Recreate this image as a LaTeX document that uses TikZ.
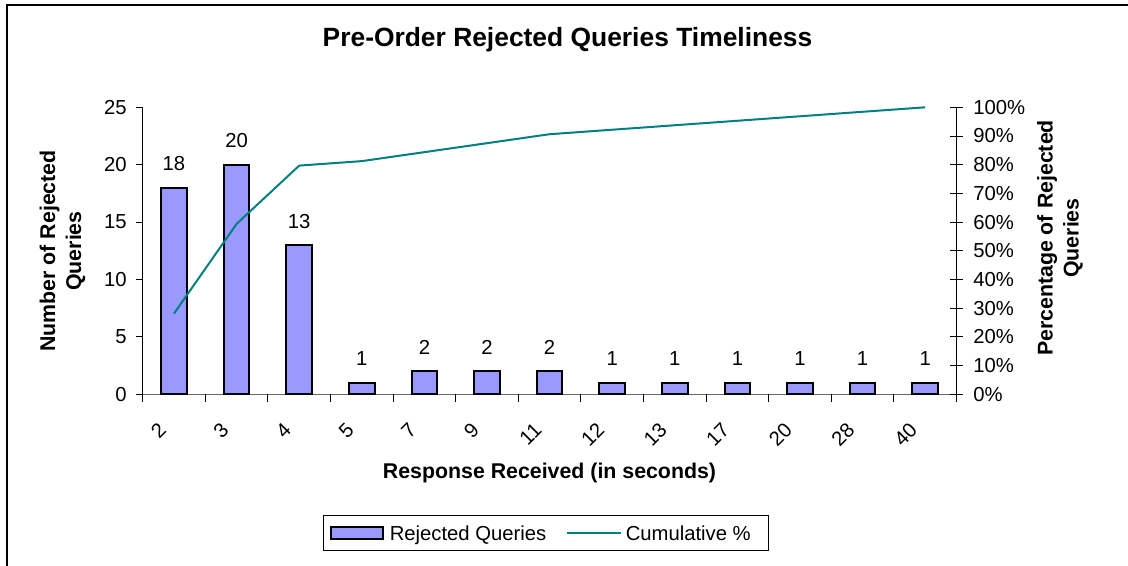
\documentclass[tikz,border=0pt]{standalone}
\usepackage{fontspec}
\setmainfont{Liberation Sans}
\definecolor{barblue}{HTML}{9999FF}
\definecolor{cumteal}{HTML}{008080}
\tikzset{
  rqbar/.style={draw=black, line width=1.5pt, fill=barblue},
  cumline/.style={draw=cumteal, line width=1.5pt},
  axisline/.style={draw=black, line width=0.75pt},
  ticklabel/.style={font=\fontsize{15.2}{18}\selectfont, inner sep=0pt},
  axistitle/.style={font=\bfseries\fontsize{16}{19.5}\selectfont, align=center, inner sep=0pt}
}
\begin{document}
\begin{tikzpicture}[x=0.75pt, y=-0.75pt]
    \useasboundingbox (0,0) rectangle (1128,565);
    % chart frame, only top and left edges show
    \draw [black, line width=1.5pt] (7.3,570) -- (7.3,4.7) -- (1135,4.7);
    \node [font=\bfseries\fontsize{19.8}{24}\selectfont] (title) at (567.5,39.6) {Pre-Order Rejected Queries Timeliness};
    % axes
    \draw [axisline] (142.7,107.3) -- (142.7,401.7);
    \draw [axisline] (956.7,107.3) -- (956.7,401.7);
    \draw [axisline, draw=black!60] (136,394.3) -- (956.7,394.3);
    \foreach \k in {1,...,12}
        \draw [axisline] ({142.7+\k*62.6},394.3) -- ({142.7+\k*62.6},401.7);
    \foreach \v in {0,...,5} {
        \draw [axisline] (136,{394.3-\v*57.4}) -- (142.7,{394.3-\v*57.4});
        \pgfmathtruncatemacro\num{\v*5}
        \node [ticklabel, anchor=east] (yl\v) at (127,{394.3-\v*57.4}) {\num};
    }
    \foreach \p in {0,...,10} {
        \draw [axisline] (950.2,{394.3-\p*28.7}) -- (963.2,{394.3-\p*28.7});
        \pgfmathtruncatemacro\pc{\p*10}
        \node [ticklabel, anchor=west] (pl\p) at (973,{394.3-\p*28.7}) {\pc\%};
    }
    % bars, labels and cumulative points
    \foreach \v/\lab/\cum [count=\i from 0] in {18/2/28.125, 20/3/59.375, 13/4/79.6875, 1/5/81.25, 2/7/84.375, 2/9/87.5, 2/11/90.625, 1/12/92.1875, 1/13/93.75, 1/17/95.3125, 1/20/96.875, 1/28/98.4375, 1/40/100} {
        \pgfmathsetmacro\cx{174+\i*62.6}
        \draw [rqbar] ({\cx-12.85},394.3) rectangle ({\cx+12.85},{394.3-\v*11.48});
        \node [ticklabel, anchor=base] (val\i) at (\cx,{394.3-\v*11.48-17}) {\v};
        \node [ticklabel, rotate=45, anchor=east] (cat\i) at ({\cx-11.5},426) {\lab};
        \coordinate (cum\i) at (\cx,{394.3-\cum*2.87});
    }
    \draw [cumline] (cum0) \foreach \i in {1,...,12} { -- (cum\i) };
    % axis titles
    \node [axistitle] (xtitle) at (549.5,473) {Response Received (in seconds)};
    \node [axistitle, rotate=90] (ytitle) at (62.5,251) {Number of Rejected\\Queries};
    \node [axistitle, rotate=90] (ptitle) at (1060,238) {Percentage of Rejected\\Queries};
    % legend
    \node [draw=black, line width=0.75pt, minimum width=445pt*0.75, minimum height=34.3pt*0.75, inner sep=0pt] (legend) at (545.8,532.9) {};
    \draw [rqbar] (331,527.3) rectangle (383.3,539.3);
    \node [ticklabel, anchor=base west] (lbar) at (389.5,540.2) {Rejected Queries};
    \coordinate (lline1) at (566.7,532.9);
    \coordinate (lline2) at (620.7,532.9);
    \draw [cumline] (lline1) -- (lline2);
    \node [ticklabel, anchor=base west] (lcum) at (625.5,540.2) {Cumulative \%};
\end{tikzpicture}
\end{document}
